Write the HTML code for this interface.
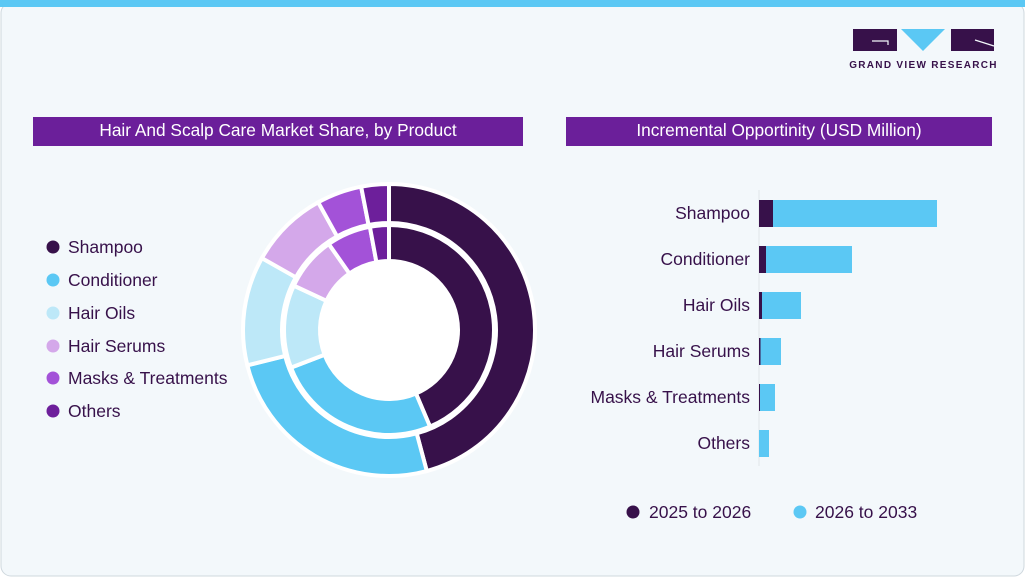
<!DOCTYPE html>
<html><head><meta charset="utf-8"><style>
body{margin:0;background:#fff;}
svg{display:block;font-family:"Liberation Sans",sans-serif;}
</style></head><body>
<svg width="1025" height="577" viewBox="0 0 1025 577">
<rect x="0" y="0" width="1025" height="577" fill="#fff"/>
<rect x="1" y="3" width="1023" height="573" rx="10" fill="#f3f8fb" stroke="#cfd8de" stroke-width="1"/>
<rect x="0" y="0" width="1025" height="7" fill="#5bc8f4"/>
<!-- logo -->
<rect x="853" y="29" width="44" height="22" fill="#37114a"/>
<path d="M872 41 H888 V45" stroke="#f3f8fb" stroke-width="1.2" fill="none"/>
<polygon points="901,29 945,29 923,51" fill="#5bc8f4"/>
<rect x="951" y="29" width="43" height="22" fill="#37114a"/>
<path d="M975 40 L994 46" stroke="#f3f8fb" stroke-width="1.2"/>
<text x="923.5" y="68" font-size="10" font-weight="bold" fill="#37114a" text-anchor="middle" letter-spacing="1.3">GRAND VIEW RESEARCH</text>
<!-- titles -->
<rect x="33" y="117" width="490" height="29" fill="#6b1f9a"/>
<text x="278" y="136" font-size="17.3" fill="#fff" text-anchor="middle">Hair And Scalp Care Market Share, by Product</text>
<rect x="566" y="117" width="426" height="29" fill="#6b1f9a"/>
<text x="779" y="136" font-size="17.3" fill="#fff" text-anchor="middle">Incremental Opportinity (USD Million)</text>
<!-- legend -->
<g font-size="17.5" fill="#37114a">
<circle cx="53" cy="247" r="6.5" fill="#37114a"/><text x="68" y="253">Shampoo</text>
<circle cx="53" cy="280" r="6.5" fill="#5bc8f4"/><text x="68" y="286">Conditioner</text>
<circle cx="53" cy="313" r="6.5" fill="#bde8f8"/><text x="68" y="319">Hair Oils</text>
<circle cx="53" cy="346" r="6.5" fill="#d4a8ea"/><text x="68" y="352">Hair Serums</text>
<circle cx="53" cy="378" r="6.5" fill="#a352d8"/><text x="68" y="384">Masks &amp; Treatments</text>
<circle cx="53" cy="411" r="6.5" fill="#6d1f9b"/><text x="68" y="417">Others</text>
</g>
<g id="donut"></g>
<!-- bars -->
<line x1="759" y1="190" x2="759" y2="466" stroke="#e2e6ea" stroke-width="1"/>
<g font-size="17.5" fill="#37114a" text-anchor="end">
<rect x="759" y="200" width="178" height="27" fill="#5bc8f4"/><rect x="759" y="200" width="14" height="27" fill="#37114a"/><text x="750" y="219">Shampoo</text>
<rect x="759" y="246" width="93" height="27" fill="#5bc8f4"/><rect x="759" y="246" width="7" height="27" fill="#37114a"/><text x="750" y="265">Conditioner</text>
<rect x="759" y="292" width="42" height="27" fill="#5bc8f4"/><rect x="759" y="292" width="3" height="27" fill="#37114a"/><text x="750" y="311">Hair Oils</text>
<rect x="759" y="338" width="22" height="27" fill="#5bc8f4"/><rect x="759" y="338" width="1.5" height="27" fill="#37114a"/><text x="750" y="357">Hair Serums</text>
<rect x="759" y="384" width="16" height="27" fill="#5bc8f4"/><rect x="759" y="384" width="1" height="27" fill="#37114a"/><text x="750" y="403">Masks &amp; Treatments</text>
<rect x="759" y="430" width="10" height="27" fill="#5bc8f4"/><text x="750" y="449">Others</text>
</g>
<g font-size="17.5" fill="#37114a">
<circle cx="633" cy="512" r="6.5" fill="#37114a"/><text x="649" y="518">2025 to 2026</text>
<circle cx="800" cy="512" r="6.5" fill="#5bc8f4"/><text x="815" y="518">2026 to 2033</text>
</g>
<circle cx="389" cy="330" r="70" fill="#fff"/>
</svg>
<script>
(function(){
var cx=389,cy=330,g=document.getElementById('donut');
var cols=['#37114a','#5bc8f4','#bde8f8','#d4a8ea','#a352d8','#6d1f9b'];
function pt(r,a){a=a*Math.PI/180;return [cx+r*Math.sin(a),cy-r*Math.cos(a)];}
function ring(ang,r0,r1){var s=0;for(var i=0;i<ang.length;i++){var e=ang[i];
var p1=pt(r1,s),p2=pt(r1,e),p3=pt(r0,e),p4=pt(r0,s),l=(e-s)>180?1:0;
var p=document.createElementNS('http://www.w3.org/2000/svg','path');
p.setAttribute('d','M'+p1+' A'+r1+' '+r1+' 0 '+l+' 1 '+p2+' L'+p3+' A'+r0+' '+r0+' 0 '+l+' 0 '+p4+'Z');
p.setAttribute('fill',cols[i]);p.setAttribute('stroke','#fff');p.setAttribute('stroke-width','4');g.appendChild(p);s=e;}}
ring([165,256,299.5,331,349,360],107,146);
ring([157,249,295,325,349.5,360],69,105);
})();
</script>
</body></html>
